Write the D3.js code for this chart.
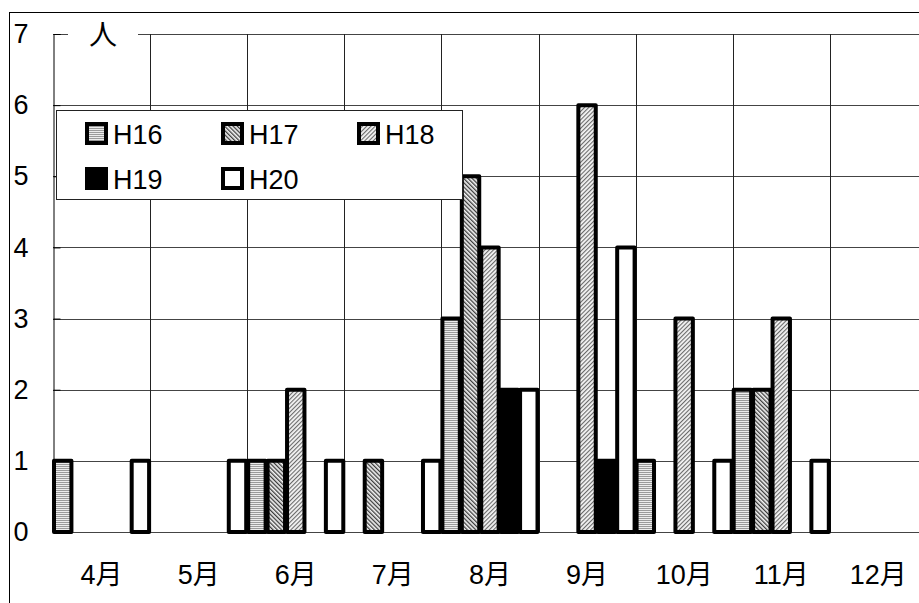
<!DOCTYPE html>
<html>
<head>
<meta charset="utf-8">
<script src="https://cdn.jsdelivr.net/npm/d3@7"></script>
<style>
  html, body { margin: 0; padding: 0; background: #fff; }
  svg { display: block; }
  text { font-family: "Liberation Sans", Arial, "Noto Sans CJK JP", sans-serif; fill: #000; }
</style>
</head>
<body>
<svg id="chart" width="919" height="603"></svg>
<script>
// Monthly counts (people) by fiscal year
const months = ["4月", "5月", "6月", "7月", "8月", "9月", "10月", "11月", "12月"];
const years = ["H16", "H17", "H18", "H19", "H20"];
const h16 = [1, 0, 1, 0, 3, 0, 1, 2, 0];
const h17 = [0, 0, 1, 1, 5, 0, 0, 2, 0];
const h18 = [0, 0, 2, 0, 4, 6, 3, 3, 0];
const h19 = [0, 0, 0, 0, 2, 1, 0, 0, 0];
const h20 = [1, 1, 1, 1, 2, 4, 1, 1, 0];
const yTicks = [0, 1, 2, 3, 4, 5, 6, 7];
const unitLabel = "人";

const valuesByYear = { H16: h16, H17: h17, H18: h18, H19: h19, H20: h20 };

const svg = d3.select("#chart");
const fontSize = 27;

const plot = { left: 53, top: 34, bottom: 532, band: 97.1 };

const x0 = d3.scaleBand().domain(months)
  .range([plot.left, plot.left + plot.band * months.length]).padding(0);
const x1 = d3.scaleBand().domain(years).range([0, x0.bandwidth()]).padding(0);
const y = d3.scaleLinear().domain([0, 7]).range([plot.bottom, plot.top]);

// Fill patterns for the hatched series
const defs = svg.append("defs");
function stripes(id, angle, w, color, bg) {
  const p = defs.append("pattern").attr("id", id)
    .attr("patternUnits", "userSpaceOnUse").attr("width", 3).attr("height", 3)
    .attr("patternTransform", `rotate(${angle})`);
  p.append("rect").attr("width", 3).attr("height", 3).attr("fill", bg);
  p.append("rect").attr("width", w).attr("height", 3).attr("fill", color);
}
// H16: fine horizontal lines
const ph = defs.append("pattern").attr("id", "pat-H16")
  .attr("patternUnits", "userSpaceOnUse").attr("width", 4).attr("height", 2);
ph.append("rect").attr("width", 4).attr("height", 2).attr("fill", "#ececec");
ph.append("rect").attr("width", 4).attr("height", 1).attr("fill", "#9a9a9a");
stripes("pat-H17", -45, 1.3, "#3c3c3c", "#f4f4f4");
stripes("pat-H18", 45, 1.1, "#6a6a6a", "#f4f4f4");

const fills = { H16: "url(#pat-H16)", H17: "url(#pat-H17)", H18: "url(#pat-H18)", H19: "#000", H20: "#fff" };

// Outer frame
svg.append("rect").attr("x", 9.5).attr("y", 12.5).attr("width", 1000).attr("height", 1000)
  .attr("fill", "none").attr("stroke", "#000").attr("stroke-width", 1);

// Gridlines
const grid = svg.append("g");
grid.selectAll("line.h").data(yTicks).join("line").attr("class", "h")
  .attr("x1", plot.left).attr("x2", 1000)
  .attr("y1", d => Math.round(y(d)) + 0.5).attr("y2", d => Math.round(y(d)) + 0.5)
  .attr("stroke", "#444").attr("stroke-width", 1);
grid.selectAll("line.v").data(months.slice(1)).join("line").attr("class", "v")
  .attr("x1", d => Math.round(x0(d)) + 0.5).attr("x2", d => Math.round(x0(d)) + 0.5)
  .attr("y1", y(7)).attr("y2", y(0))
  .attr("stroke", "#222").attr("stroke-width", 1);

// Y axis with inward ticks
const yAxis = svg.append("g").attr("transform", `translate(${plot.left + 0.5},0)`)
  .call(d3.axisLeft(y).tickValues(yTicks).tickSize(-7).tickPadding(25).tickFormat(d3.format("d")));
yAxis.select(".domain").attr("stroke", "#000");
yAxis.selectAll(".tick line").attr("stroke", "#000");
yAxis.selectAll("text").attr("font-size", fontSize).attr("font-family", null);

// X axis labels
const xAxis = svg.append("g").attr("transform", `translate(0,${plot.bottom})`)
  .call(d3.axisBottom(x0).tickSize(0).tickPadding(33));
xAxis.select(".domain").remove();
xAxis.selectAll("text").attr("font-size", fontSize).attr("font-family", null);

// Unit label sitting on the top border
svg.append("rect").attr("x", 68).attr("y", 22).attr("width", 70).attr("height", 26).attr("fill", "#fff");
svg.append("text").attr("x", 103).attr("y", 35.5).attr("text-anchor", "middle")
  .attr("dominant-baseline", "central").attr("font-size", 28).text(unitLabel);

// Bars
const groups = svg.append("g").selectAll("g").data(months).join("g")
  .attr("transform", d => `translate(${x0(d)},0)`);
groups.selectAll("rect")
  .data((m, i) => years.map(s => ({ s, v: valuesByYear[s][i] })).filter(d => d.v > 0))
  .join("rect")
  .attr("x", d => x1(d.s) + 1)
  .attr("width", x1.bandwidth() - 2)
  .attr("y", d => y(d.v))
  .attr("height", d => y(0) - y(d.v))
  .attr("fill", d => fills[d.s])
  .attr("stroke", "#000").attr("stroke-width", 4).attr("stroke-linejoin", "round");

// Legend
const legend = svg.append("g");
legend.append("rect").attr("x", 56.5).attr("y", 110.5).attr("width", 406).attr("height", 89)
  .attr("fill", "#fff").attr("stroke", "#222").attr("stroke-width", 1);
const legPos = [[85, 122], [221, 122], [357, 122], [85, 167], [221, 167]];
years.forEach((s, i) => {
  const [lx, ly] = legPos[i];
  legend.append("rect").attr("x", lx + 2).attr("y", ly + 2).attr("width", 19).attr("height", 19)
    .attr("fill", fills[s]).attr("stroke", "#000").attr("stroke-width", 4);
  legend.append("text").attr("x", lx + 28).attr("y", ly + 22).attr("font-size", fontSize).text(s);
});
</script>
</body>
</html>
